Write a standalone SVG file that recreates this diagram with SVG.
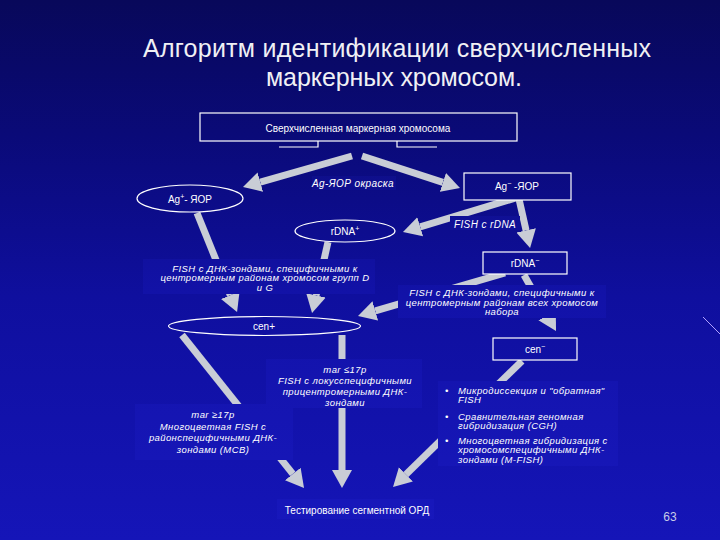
<svg xmlns="http://www.w3.org/2000/svg" width="720" height="540" viewBox="0 0 720 540">
  <defs>
    <linearGradient id="bg" gradientUnits="userSpaceOnUse" x1="0" y1="0" x2="0" y2="540">
      <stop offset="0" stop-color="#08085a"/>
      <stop offset="0.25" stop-color="#0a0a78"/>
      <stop offset="0.55" stop-color="#0f0f9e"/>
      <stop offset="1" stop-color="#1515b8"/>
    </linearGradient>
    <linearGradient id="bgL" gradientUnits="userSpaceOnUse" x1="0" y1="0" x2="0" y2="540">
      <stop offset="0" stop-color="#0b0b62"/>
      <stop offset="0.25" stop-color="#0d0d82"/>
      <stop offset="0.55" stop-color="#1212a8"/>
      <stop offset="1" stop-color="#1818bd"/>
    </linearGradient>
    <marker id="head" markerUnits="userSpaceOnUse" viewBox="0 -11 19 22" markerWidth="19" markerHeight="22" refX="0" refY="0" orient="auto">
      <path d="M0,-10 L18,0 L0,10 Z" fill="#c9cdd6"/>
    </marker>
  </defs>
  <style>
    .arrow { stroke: #c9cdd6; stroke-width: 7; fill: none; marker-end: url(#head); }
    .node { fill: url(#bg); stroke: #ffffff; stroke-width: 1.2; }
    .lbl { fill: url(#bgL); }
    .t { font-family: "Liberation Sans", "DejaVu Sans", sans-serif; font-size: 10px; fill: #ffffff; text-anchor: middle; }
    .i { font-style: italic; letter-spacing: 0.4px; }
    .s { font-size: 9.5px; }
    .b { text-anchor: start; }
    .title { font-family: "Liberation Sans", "DejaVu Sans", sans-serif; font-size: 25px; fill: #f0f0f4; text-anchor: middle; }
  </style>

  <rect width="720" height="540" fill="url(#bg)"/>
  <line x1="703" y1="317" x2="720" y2="334" stroke="#b0a0ff" stroke-width="1"/>

  <text class="title" x="397" y="57" textLength="508" lengthAdjust="spacing">Алгоритм идентификации сверхчисленных</text>
  <text class="title" x="394" y="86" textLength="256" lengthAdjust="spacing">маркерных хромосом.</text>

  <g id="connectors">
    <line class="arrow" x1="352" y1="156" x2="260.3" y2="182.1"/>
    <line class="arrow" x1="362" y1="156" x2="442.9" y2="182.4"/>
    <line class="arrow" x1="197" y1="213" x2="230.3" y2="295.3"/>
    <line class="arrow" x1="328" y1="242" x2="316" y2="295.4"/>
    <line class="arrow" x1="519" y1="197" x2="420.2" y2="226.8"/>
    <line class="arrow" x1="519" y1="199" x2="526.1" y2="230.4"/>
    <line class="arrow" x1="505" y1="273" x2="375.3" y2="310.9"/>
    <line class="arrow" x1="524" y1="275" x2="547.1" y2="315.4"/>
    <line class="arrow" x1="182" y1="335" x2="292.8" y2="473.9"/>
    <line class="arrow" x1="342" y1="335" x2="342" y2="470"/>
    <line class="arrow" x1="522" y1="361" x2="405.9" y2="474.4"/>
  </g>

  <g id="n-top">
    <rect class="node" x="200" y="113" width="317" height="28"/>
    <path d="M318,141 V147 H279 M397,141 V147 H437" fill="none" stroke="#ffffff" stroke-width="1.2"/>
    <text class="t" x="358" y="131.5">Сверхчисленная маркерная хромосома</text>
  </g>

  <g id="l-agstain">
    <rect class="lbl" x="312" y="176" width="84" height="14"/>
    <text class="t i" x="353" y="186.5">Ag-ЯОР окраска</text>
  </g>

  <g id="n-agplus">
    <ellipse class="node" cx="190" cy="198.5" rx="53" ry="13.5"/>
    <text class="t" x="190" y="202.5">Ag<tspan font-size="7" dy="-4">+</tspan><tspan dy="4">- ЯОР</tspan></text>
  </g>

  <g id="n-agminus">
    <rect class="node" x="464" y="173" width="107" height="27"/>
    <text class="t" x="517" y="189.5">Ag<tspan font-size="7" dy="-4">−</tspan><tspan dy="4"> -ЯОР</tspan></text>
  </g>

  <g id="l-fishrdna">
    <rect class="lbl" x="450" y="216" width="70" height="14"/>
    <text class="t i" x="485" y="227.5">FISH с rDNA</text>
  </g>

  <g id="n-rdnaplus">
    <ellipse class="node" cx="345" cy="231" rx="50" ry="11"/>
    <text class="t" x="345" y="235">rDNA<tspan font-size="7" dy="-4">+</tspan></text>
  </g>

  <g id="n-rdnaminus">
    <rect class="node" x="483" y="252" width="84" height="22"/>
    <text class="t" x="525" y="266.5">rDNA<tspan font-size="7" dy="-4">−</tspan></text>
  </g>

  <g id="l-fish-dg">
    <rect class="lbl" x="143" y="259" width="232" height="35"/>
    <text class="t i s" x="265" y="271.5">FISH с ДНК-зондами, специфичными к</text>
    <text class="t i s" x="265" y="281">центромерным районам хромосом групп D</text>
    <text class="t i s" x="265" y="290.5">и G</text>
  </g>

  <g id="l-fish-all">
    <rect class="lbl" x="398" y="285" width="208" height="33"/>
    <text class="t i s" x="502" y="296">FISH с ДНК-зондами, специфичными к</text>
    <text class="t i s" x="502" y="305.5">центромерным районам всех хромосом</text>
    <text class="t i s" x="502" y="315">набора</text>
  </g>

  <g id="n-cenplus">
    <ellipse class="node" cx="264.5" cy="326" rx="96" ry="9.5"/>
    <text class="t" x="264" y="329.5">cen+</text>
  </g>

  <g id="n-cenminus">
    <rect class="node" x="493" y="338" width="84" height="22"/>
    <text class="t" x="535" y="352.5">cen<tspan font-size="7" dy="-4">−</tspan></text>
  </g>

  <g id="l-marle">
    <rect class="lbl" x="266" y="359" width="156" height="49"/>
    <text class="t i s" x="345" y="372.5">mar ≤17p</text>
    <text class="t i s" x="345" y="383.5">FISH с локусспецифичными</text>
    <text class="t i s" x="345" y="395">прицентромерными ДНК-</text>
    <text class="t i s" x="345" y="405.5">зондами</text>
  </g>

  <g id="l-marge">
    <rect class="lbl" x="135" y="404" width="158" height="56"/>
    <text class="t i s" x="213" y="417.5">mar ≥17p</text>
    <text class="t i s" x="213" y="429.5">Многоцветная FISH с</text>
    <text class="t i s" x="213" y="441">районспецифичными ДНК-</text>
    <text class="t i s" x="213" y="452.5">зондами (MCB)</text>
  </g>

  <g id="l-methods">
    <rect class="lbl" x="438" y="381" width="180" height="85"/>
    <text class="t i s b" x="445" y="393.5">•</text>
    <text class="t i s b" x="458" y="393.5">Микродиссекция и "обратная"</text>
    <text class="t i s b" x="458" y="403">FISH</text>
    <text class="t i s b" x="445" y="419.5">•</text>
    <text class="t i s b" x="458" y="419.5">Сравнительная геномная</text>
    <text class="t i s b" x="458" y="429">гибридизация (CGH)</text>
    <text class="t i s b" x="445" y="443.5">•</text>
    <text class="t i s b" x="458" y="443.5">Многоцветная гибридизация с</text>
    <text class="t i s b" x="458" y="453">хромосомспецифичными ДНК-</text>
    <text class="t i s b" x="458" y="462.5">зондами (M-FISH)</text>
  </g>

  <g id="n-test">
    <rect class="lbl" x="277" y="499" width="157" height="20"/>
    <text class="t" x="357" y="513.5">Тестирование сегментной ОРД</text>
  </g>

  <text x="670" y="521" font-family="Liberation Sans, sans-serif" font-size="12" fill="#c8cce8" text-anchor="middle">63</text>
</svg>
